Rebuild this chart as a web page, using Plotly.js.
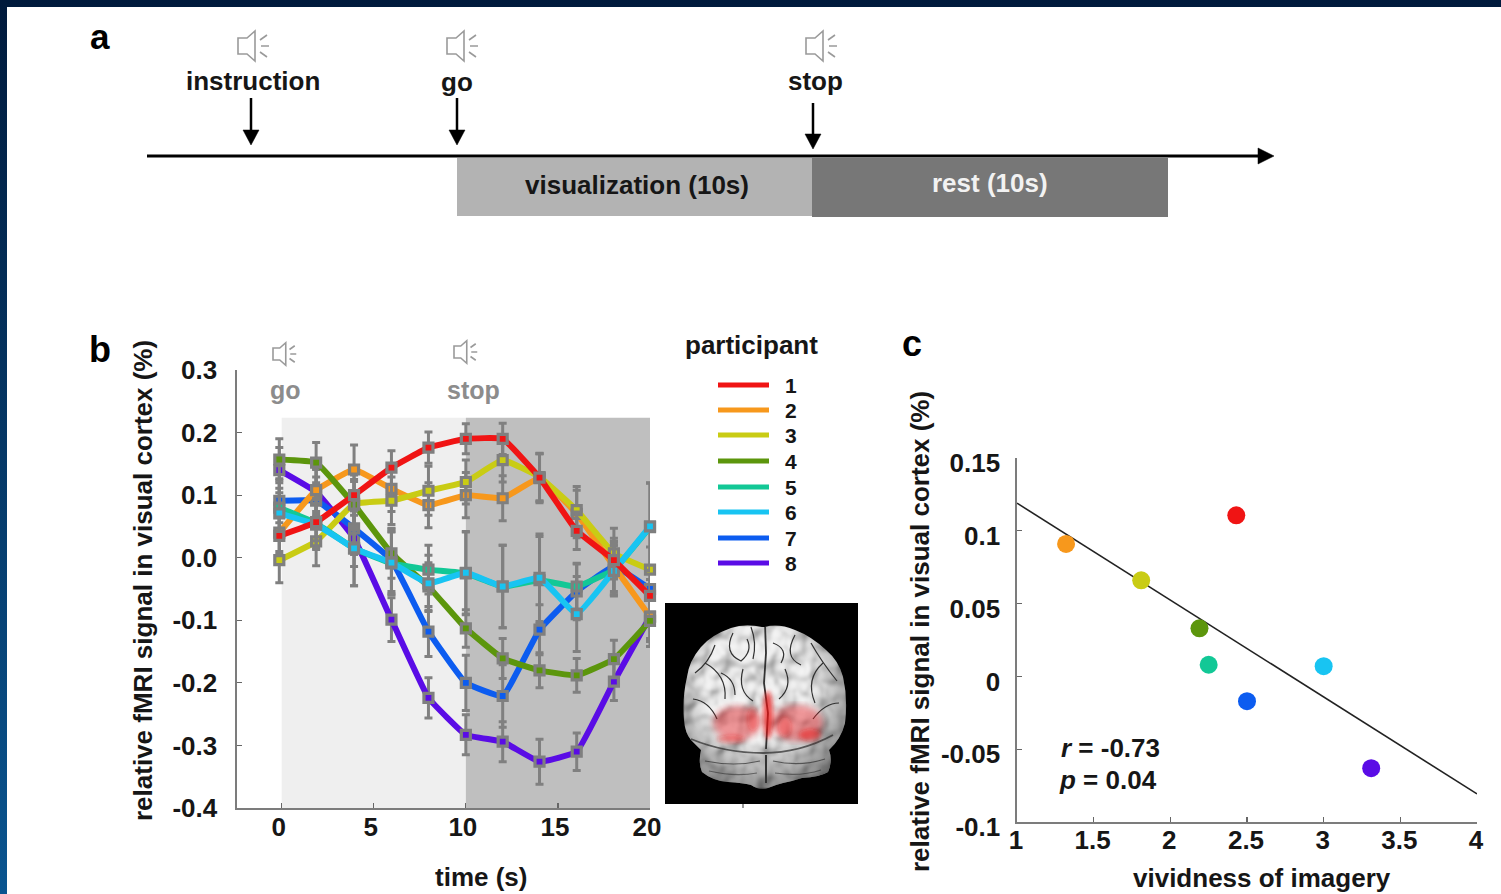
<!DOCTYPE html>
<html>
<head>
<meta charset="utf-8">
<script src="https://cdn.plot.ly/plotly-3.0.1.min.js"></script>
<style>
html,body{margin:0;padding:0;width:1501px;height:894px;overflow:hidden;background:linear-gradient(180deg,#001a3c 0%,#0a5590 100%);}
#sheet{position:absolute;left:7px;top:7px;width:1494px;height:887px;background:#fff;}
#chart{position:absolute;left:0;top:0;width:1501px;height:894px;}
</style>
</head>
<body>
<div id="sheet"></div>
<div id="chart"></div>
<script>
// ---------- panel b data ----------
const timeSeconds = [-0.13,1.87,3.93,5.96,7.97,10,12,14,16.02,18.04,20];
const participants = ['1','2','3','4','5','6','7','8'];
const colors = ['#f01414','#f7981c','#c9cc14','#5c960c','#12c896','#18c4f2','#0c5cf0','#5a0ce6'];
const s1 = [0.035,0.057,0.100,0.144,0.176,0.190,0.190,0.128,0.043,-0.004,-0.061];
const s2 = [0.040,0.108,0.141,0.110,0.084,0.100,0.095,0.127,0.070,-0.014,-0.094];
const s3 = [-0.004,0.026,0.086,0.091,0.107,0.121,0.156,0.129,0.076,0.007,-0.019];
const s4 = [0.157,0.152,0.085,0.007,-0.046,-0.113,-0.161,-0.180,-0.188,-0.162,-0.101];
const s5 = [0.080,0.055,0.015,-0.009,-0.019,-0.025,-0.046,-0.036,-0.046,-0.019,0.049];
const s6 = [0.071,0.053,0.015,-0.008,-0.041,-0.024,-0.046,-0.032,-0.090,-0.021,0.050];
const s7 = [0.091,0.091,0.047,-0.004,-0.118,-0.200,-0.221,-0.115,-0.054,-0.014,-0.050];
const s8 = [0.140,0.105,0.031,-0.099,-0.224,-0.283,-0.294,-0.326,-0.310,-0.198,-0.094];
const e1 = [0.030,0.030,0.032,0.027,0.025,0.024,0.025,0.038,0.030,0.030,0.026];
const e2 = [0.030,0.034,0.039,0.036,0.036,0.036,0.036,0.039,0.038,0.045,0.040];
const e3 = [0.036,0.039,0.036,0.038,0.039,0.035,0.035,0.038,0.038,0.040,0.036];
const e4 = [0.033,0.032,0.040,0.040,0.038,0.030,0.032,0.028,0.027,0.030,0.041];
const e5 = [0.040,0.040,0.060,0.050,0.039,0.066,0.066,0.070,0.036,0.040,0.070];
const e6 = [0.040,0.040,0.060,0.050,0.045,0.066,0.066,0.070,0.060,0.040,0.070];
const e7 = [0.035,0.038,0.042,0.050,0.040,0.044,0.050,0.040,0.045,0.040,0.035];
const e8 = [0.036,0.036,0.045,0.035,0.032,0.032,0.032,0.036,0.030,0.030,0.035];
const seriesB = [s1,s2,s3,s4,s5,s6,s7,s8];
const errorsB = [e1,e2,e3,e4,e5,e6,e7,e8];
const drawOrder = [7,6,1,2,3,4,5,0];
const ticksBY = [-0.4,-0.3,-0.2,-0.1,0,0.1,0.2,0.3];
const tickLabelsBY = ['-0.4','-0.3','-0.2','-0.1','0.0','0.1','0.2','0.3'];
const ticksBX = [0,5,10,15,20];
// ---------- panel c data ----------
const vividness = [2.43,1.32,1.81,2.19,2.25,3.00,2.50,3.31];
const signal = [0.1106,0.091,0.066,0.033,0.008,0.007,-0.017,-0.063];
const fitX = [1,4];
const fitY = [0.119,-0.0807];
const ticksCX = [1,1.5,2,2.5,3,3.5,4];
const tickLabelsCX = ['1','1.5','2','2.5','3','3.5','4'];
const ticksCY = [-0.1,-0.05,0,0.05,0.1,0.15];
const tickLabelsCY = ['-0.1','-0.05','0','0.05','0.1','0.15'];

const W = 1501, H = 894;
const FONT = '"Liberation Sans", Arial, sans-serif';
const INK = '#161616';
const px = x => x / W;
const py = y => 1 - y / H;
const paperShape = o => Object.assign({xref:'paper', yref:'paper'}, o);

function speaker(cx, cy, s){
  const P = (x,y) => `${px(cx + x*s)},${py(cy + y*s)}`;
  const body = `M${P(-16,-8)} L${P(-7,-8)} L${P(1,-15)} L${P(1,15)} L${P(-7,8)} L${P(-16,8)} Z`;
  const rays = `M${P(6,-6)} L${P(13,-11)} M${P(7,0)} L${P(15,0)} M${P(6,6)} L${P(13,11)}`;
  return paperShape({type:'path', path: body + ' ' + rays, line:{color:'#9a9a9a', width:1.6}});
}
function downArrow(x, y0, y1){
  const P = (a,b) => `${px(a)},${py(b)}`;
  return [
    paperShape({type:'line', x0:px(x), x1:px(x), y0:py(y0), y1:py(y1-10), line:{color:'#000',width:2.5}}),
    paperShape({type:'path', path:`M${P(x-8,y1-15)} L${P(x+8,y1-15)} L${P(x,y1)} Z`, fillcolor:'#000', line:{color:'#000',width:0.5}})
  ];
}
function note(text, x, y, size, color, extra){
  return Object.assign({xref:'paper', yref:'paper', x:px(x), y:py(y), xanchor:'center', yanchor:'middle',
    showarrow:false, text, font:{family:FONT, size, color}}, extra||{});
}

// brain picture: procedural inline SVG
const brainOutline = 'M97,24 Q80,20 66,25 Q46,32 36,44 Q24,58 22,74 Q17,96 19,117 Q20,130 26,137 Q32,143 36,147 Q33,160 37,169 Q48,178 63,179 Q78,180 86,182 Q95,188 103,185 Q110,182 118,180 Q128,178 137,175 Q155,174 163,169 Q168,158 164,147 Q176,136 180,120 Q183,96 178,74 Q174,58 161,47 Q146,33 130,27 Q113,20 100,24 Z';
const brainSvg = `<svg xmlns="http://www.w3.org/2000/svg" width="772" height="804" viewBox="0 0 193 201">
<defs>
<filter id="t" x="0" y="0" width="100%" height="100%">
<feTurbulence type="fractalNoise" baseFrequency="0.05 0.045" numOctaves="2" seed="11" result="n"/>
<feDiffuseLighting in="n" surfaceScale="9" diffuseConstant="1.12" lighting-color="#e8e8e8" result="l"><feDistantLight azimuth="235" elevation="62"/></feDiffuseLighting>
<feGaussianBlur in="l" stdDeviation="0.8" result="b"/>
<feComposite in="b" in2="SourceGraphic" operator="in"/>
</filter>
<filter id="b1"><feGaussianBlur stdDeviation="3.2"/></filter>
<filter id="b2"><feGaussianBlur stdDeviation="2"/></filter>
<filter id="b3"><feGaussianBlur stdDeviation="0.6"/></filter>
<radialGradient id="s" cx="48%" cy="40%" r="62%"><stop offset="0.45" stop-color="#000" stop-opacity="0"/><stop offset="0.85" stop-color="#000" stop-opacity="0.4"/><stop offset="1" stop-color="#000" stop-opacity="0.8"/></radialGradient>
<clipPath id="c"><path d="${brainOutline}"/></clipPath>
</defs>
<rect width="193" height="201" fill="#000"/>
<path d="${brainOutline}" fill="#fff" filter="url(#t)"/>
<g clip-path="url(#c)">
<rect width="193" height="201" fill="url(#s)"/>
<g fill="none" stroke="#303030" stroke-width="1.2" filter="url(#b3)">
<path d="M100,20 L101,50 L99,80 L103,110 L101,146" stroke-width="1.8"/>
<path d="M26,136 Q60,150 98,150 Q135,150 168,132" stroke-width="1.8" opacity="0.75"/>
<path d="M101,152 L101,180" stroke-width="2"/>
<path d="M40,158 Q70,164 95,158" opacity="0.7"/><path d="M108,158 Q135,164 160,156" opacity="0.7"/>
<path d="M44,168 Q70,174 92,170" opacity="0.6"/><path d="M110,170 Q135,174 156,167" opacity="0.6"/>
<path d="M68,30 Q58,50 76,58 Q88,48 82,36"/><path d="M40,60 Q62,72 60,96"/><path d="M130,32 Q118,54 136,62"/>
<path d="M158,60 Q140,76 150,100"/><path d="M78,66 Q72,88 88,98"/><path d="M120,66 Q128,84 114,96"/>
<path d="M50,42 Q44,60 30,70"/><path d="M146,40 Q156,58 172,78"/><path d="M28,96 Q44,98 52,116"/><path d="M174,100 Q160,100 148,116"/>
<path d="M56,70 Q70,76 70,92"/><path d="M108,40 Q124,46 116,60"/><path d="M86,24 Q92,40 88,56"/>
</g>
<g filter="url(#b1)" fill="#e8141c" opacity="0.42">
<ellipse cx="72" cy="120" rx="24" ry="17"/><ellipse cx="132" cy="120" rx="26" ry="18"/>
</g>
<g filter="url(#b2)" fill="#f01414">
<ellipse cx="103" cy="112" rx="5" ry="24" opacity="0.7"/>
<ellipse cx="145" cy="132" rx="11" ry="6" opacity="0.5"/>
<ellipse cx="66" cy="136" rx="14" ry="4" opacity="0.4"/>
<ellipse cx="88" cy="116" rx="6" ry="12" opacity="0.3"/><ellipse cx="120" cy="124" rx="7" ry="10" opacity="0.3"/>
</g>
</g>
</svg>`;
const brainImage = 'data:image/svg+xml;charset=utf-8,' + encodeURIComponent(brainSvg);

// traces
const traces = [];
drawOrder.forEach(i => {
  traces.push({
    type:'scatter', mode:'lines+markers', name:participants[i], xaxis:'x', yaxis:'y', showlegend:false,
    x:timeSeconds, y:seriesB[i], cliponaxis:false,
    line:{color:colors[i], width:6, shape:'spline', smoothing:0.3},
    marker:{symbol:'square', size:9, color:colors[i], line:{color:'#7f7f7f', width:3.2}},
    error_y:{type:'data', array:errorsB[i], visible:true, color:'#808080', thickness:3, width:4}
  });
});
traces.push({type:'scatter', mode:'lines', xaxis:'x2', yaxis:'y2', x:fitX, y:fitY, showlegend:false,
  line:{color:'#222', width:1.6}, cliponaxis:false});
traces.push({type:'scatter', mode:'markers', xaxis:'x2', yaxis:'y2', x:vividness, y:signal, showlegend:false,
  text:participants, marker:{size:18, color:colors}, cliponaxis:false});

// shapes
const legendY = [385,410,435,461,487,512,538,563];
const shapes = [
  {xref:'x', yref:'y', type:'rect', x0:0, x1:10, y0:-0.4, y1:0.2236, fillcolor:'#efefef', line:{width:0}, layer:'below'},
  {xref:'x', yref:'y', type:'rect', x0:10, x1:20, y0:-0.4, y1:0.2236, fillcolor:'#bfbfbf', line:{width:0}, layer:'below'},
  paperShape({type:'rect', x0:px(457), x1:px(812), y0:py(216), y1:py(158), fillcolor:'#b3b3b3', line:{width:0}}),
  paperShape({type:'rect', x0:px(812), x1:px(1168), y0:py(217), y1:py(158), fillcolor:'#777777', line:{width:0}}),
  paperShape({type:'line', x0:px(147), x1:px(1262), y0:py(156), y1:py(156), line:{color:'#000',width:3}}),
  paperShape({type:'path', path:`M${px(1258)},${py(148)} L${px(1274)},${py(156)} L${px(1258)},${py(164)} Z`, fillcolor:'#000', line:{color:'#000',width:0.5}}),
  speaker(254,46,1), speaker(463,46,1), speaker(822,46,1),
  speaker(285,354,0.75), speaker(466,352,0.75),
  ...downArrow(251,98,145), ...downArrow(457,98,145), ...downArrow(813,103,149),
  paperShape({type:'line', x0:px(743), x1:px(743), y0:py(804), y1:py(808), line:{color:'#333',width:1}})
];
legendY.forEach((y,i) => shapes.push(paperShape({type:'line', x0:px(718), x1:px(769), y0:py(y), y1:py(y), line:{color:colors[i], width:5}})));

// annotations
const annotations = [
  note('<b>a</b>',100,37,35,'#000'), note('<b>b</b>',100,349,36,'#000'), note('<b>c</b>',912,343,36,'#000'),
  note('<b>instruction</b>',253,81,26,INK), note('<b>go</b>',457,82,26,INK), note('<b>stop</b>',815,81,26,INK),
  note('<b>visualization (10s)</b>',637,185,26,INK), note('<b>rest (10s)</b>',990,183,26,'#f2f2f2'),
  note('<b>go</b>',285,390,25,'#8c8c8c'), note('<b>stop</b>',473,390,25,'#8c8c8c'),
  note('<b>participant</b>',752,345,26,INK),
  note('<b>relative fMRI signal in visual cortex (%)</b>',143,581,26,INK,{textangle:-90}),
  note('<b>time (s)</b>',481,877,26,INK),
  note('<b>relative fMRI signal in visual cortex (%)</b>',920,632,26,INK,{textangle:-90}),
  note('<b>vividness of imagery</b>',1262,878,26,INK),
  note('<b><i>r</i> = -0.73</b>',1110,748,26,INK), note('<b><i>p</i> = 0.04</b>',1108,780,26,INK)
];
legendY.forEach((y,i) => annotations.push(note('<b>'+participants[i]+'</b>',791,y,21,INK)));

const axisCommon = {
  showgrid:false, zeroline:false, showline:true, linecolor:'#7c7c7c', linewidth:1.6,
  ticks:'inside', ticklen:5, tickwidth:1.2, tickcolor:'#666',
  tickfont:{family:FONT, size:26, color:INK, weight:700}, tickmode:'array', fixedrange:true
};
const layout = {
  width:W, height:H, margin:{l:0,r:0,t:0,b:0,pad:0}, showlegend:false,
  paper_bgcolor:'rgba(0,0,0,0)', plot_bgcolor:'rgba(0,0,0,0)',
  xaxis:Object.assign({}, axisCommon, {domain:[px(237),px(650)], range:[(237-281.7)/18.42,20], tickvals:ticksBX, ticktext:ticksBX.map(String), anchor:'y', ticklabelstandoff:-5, ticklabelshift:-3}),
  yaxis:Object.assign({}, axisCommon, {domain:[py(808),py(370)], range:[-0.4,0.3], tickvals:ticksBY, ticktext:tickLabelsBY, anchor:'x', ticklabelstandoff:13}),
  xaxis2:Object.assign({}, axisCommon, {domain:[px(1017),px(1477)], range:[1,4], tickvals:ticksCX, ticktext:tickLabelsCX, anchor:'y2', ticklabelstandoff:-6, ticklabelshift:-1}),
  yaxis2:Object.assign({}, axisCommon, {domain:[py(822),py(458)], range:[-0.1,0.15], tickvals:ticksCY, ticktext:tickLabelsCY, anchor:'x2', ticklabelstandoff:10, ticklabelshift:5}),
  shapes, annotations,
  images:[{source:brainImage, xref:'paper', yref:'paper', x:px(665), y:py(603), sizex:193/W, sizey:201/H, xanchor:'left', yanchor:'top', sizing:'stretch', layer:'above'}]
};
Plotly.newPlot('chart', traces, layout, {displayModeBar:false, staticPlot:true});
</script>
</body>
</html>
